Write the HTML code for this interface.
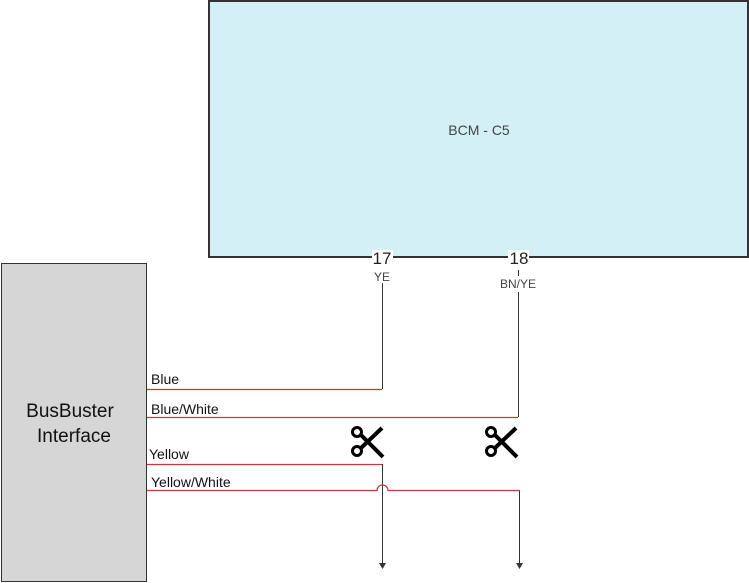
<!DOCTYPE html>
<html><head><style>
body{margin:0;width:749px;height:583px;background:#fff;overflow:hidden;font-family:"Liberation Sans",Arial,sans-serif}
</style></head><body>
<svg width="749" height="583" xmlns="http://www.w3.org/2000/svg" style="position:absolute;left:0;top:0">
<rect x="209" y="1" width="539" height="256" fill="#d2f0f5" stroke="#333" stroke-width="2"/>
<text x="479" y="135" font-size="14" fill="#444" text-anchor="middle">BCM - C5</text>
<rect x="1.5" y="263.5" width="145" height="318" fill="#d6d6d6" stroke="#333" stroke-width="1"/>
<text x="70" y="417" font-size="19" fill="#111" text-anchor="middle">BusBuster</text>
<text x="74" y="442" font-size="19" fill="#111" text-anchor="middle">Interface</text>
<rect x="372" y="250" width="21" height="16" fill="#fff"/>
<rect x="508" y="250" width="21" height="16" fill="#fff"/>
<text x="382" y="264" font-size="17" fill="#222" text-anchor="middle">17</text>
<text x="519" y="264" font-size="17" fill="#222" text-anchor="middle">18</text>
<text x="382" y="281" font-size="12" fill="#444" text-anchor="middle">YE</text>
<text x="518" y="288" font-size="12" fill="#444" text-anchor="middle">BN/YE</text>
<g stroke="#333" stroke-width="1" fill="none">
<line x1="382.5" y1="283" x2="382.5" y2="389"/>
<line x1="518.5" y1="270" x2="518.5" y2="276"/>
<line x1="518.5" y1="292" x2="518.5" y2="417"/>
<line x1="382.5" y1="464" x2="382.5" y2="563"/>
<line x1="519.5" y1="490" x2="519.5" y2="563"/>
</g>
<polygon points="379,563 386,563 382.5,569" fill="#333"/>
<polygon points="516,563 523,563 519.5,569" fill="#333"/>
<g stroke="#c0393b" stroke-width="1.2" fill="none">
<line x1="147" y1="389.5" x2="382" y2="389.5"/>
<line x1="147" y1="417.5" x2="518" y2="417.5"/>
<line x1="147" y1="464.5" x2="382" y2="464.5"/>
<path d="M147 490.5 H377 A5.5 5.5 0 0 1 388 490.5 H520"/>
</g>
<g font-size="14" fill="#111">
<text x="151" y="384">Blue</text>
<text x="151" y="414">Blue/White</text>
<text x="149" y="459">Yellow</text>
<text x="151" y="487">Yellow/White</text>
</g>
<g id="sc" stroke="#000" fill="none">
<circle cx="357" cy="432" r="4.5" stroke-width="3"/>
<circle cx="357" cy="451" r="4.5" stroke-width="3"/>
<path d="M361 435 L383 457" stroke-width="4"/>
<path d="M361 448 L382 428" stroke-width="4"/>
</g>
<use href="#sc" x="134" y="0"/>
</svg>
</body></html>
